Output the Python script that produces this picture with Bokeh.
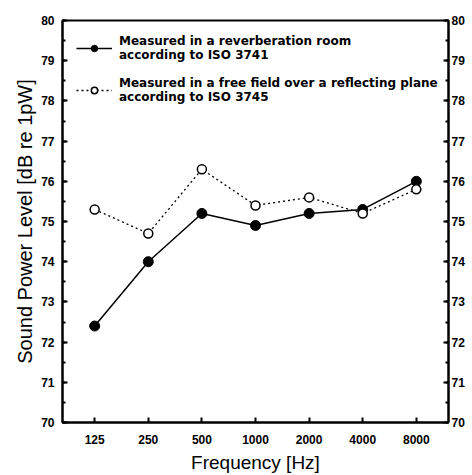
from bokeh.plotting import figure
from bokeh.models import (FactorRange, Range1d, LinearAxis, CategoricalAxis, SingleIntervalTicker,
                          Legend, LegendItem)
from bokeh.embed import file_html
from bokeh.resources import INLINE

freqs = ["125", "250", "500", "1000", "2000", "4000", "8000"]
reverb = [72.4, 74.0, 75.2, 74.9, 75.2, 75.3, 76.0]
freefield = [75.3, 74.7, 76.3, 75.4, 75.6, 75.2, 75.8]
label_reverb = "Measured in a reverberation room\naccording to ISO 3741"
label_free = "Measured in a free field over a reflecting plane\naccording to ISO 3745"

FONT = "Liberation Sans"

p = figure(x_range=FactorRange(*freqs, range_padding=0.1, range_padding_units="absolute"),
           y_range=Range1d(70, 80), frame_width=386, frame_height=402,
           output_backend="svg", toolbar_location=None,
           min_border_left=62, min_border_right=20, min_border_top=20, min_border_bottom=0,
           x_axis_location=None, y_axis_location=None)
p.outline_line_color = "black"
p.outline_line_width = 2
p.xgrid.visible = False
p.ygrid.visible = False
p.background_fill_color = "white"
p.border_fill_color = "white"

def style_axis(ax):
    ax.axis_line_color = "black"
    ax.axis_line_width = 2
    ax.major_tick_in = 5
    ax.major_tick_out = 0
    ax.major_tick_line_width = 2
    ax.major_label_text_font = FONT
    ax.major_label_text_font_style = "bold"
    ax.major_label_text_font_size = "12px"
    ax.major_label_text_color = "black"
    ax.axis_label_text_font = FONT
    ax.axis_label_text_font_style = "normal"
    ax.axis_label_text_font_size = "20px"
    ax.axis_label_text_color = "black"

ly = LinearAxis(ticker=SingleIntervalTicker(interval=1, num_minor_ticks=2),
                axis_label="Sound Power Level [dB re 1pW]")
style_axis(ly)
ly.minor_tick_in = 3
ly.minor_tick_out = 0
ly.minor_tick_line_width = 2
ly.major_label_standoff = 8
ly.axis_label_standoff = 2
p.add_layout(ly, "left")

ry = LinearAxis(ticker=SingleIntervalTicker(interval=1, num_minor_ticks=2))
style_axis(ry)
ry.minor_tick_in = 3
ry.minor_tick_out = 0
ry.minor_tick_line_width = 2
ry.major_label_standoff = 3
p.add_layout(ry, "right")

bx = CategoricalAxis(axis_label="Frequency [Hz]")
style_axis(bx)
bx.axis_label_text_font_size = "19px"
bx.major_label_standoff = 12
bx.axis_label_standoff = 5
p.add_layout(bx, "below")

r1l = p.line(freqs, reverb, line_color="black", line_width=1.5)
r1m = p.scatter(freqs, reverb, size=10, marker="circle", fill_color="black", line_color="black")
r2l = p.line(freqs, freefield, line_color="black", line_width=1.3, line_dash="2 3")
r2m = p.scatter(freqs, freefield, size=9, marker="circle", fill_color="white", line_color="black",
                line_width=1.5)

legend = Legend(items=[LegendItem(label=label_reverb, renderers=[r1l, r1m]),
                       LegendItem(label=label_free, renderers=[r2l, r2m])],
                location="top_left", border_line_color=None, background_fill_alpha=0,
                label_text_font="DejaVu Sans", label_text_font_style="bold",
                label_text_font_size="12px", label_text_line_height=1.1,
                label_text_color="black",
                glyph_width=36, glyph_height=16, label_standoff=7, spacing=14, padding=15,
                margin=14)
p.add_layout(legend, "center")

open("out.html", "w").write(file_html(p, INLINE))
